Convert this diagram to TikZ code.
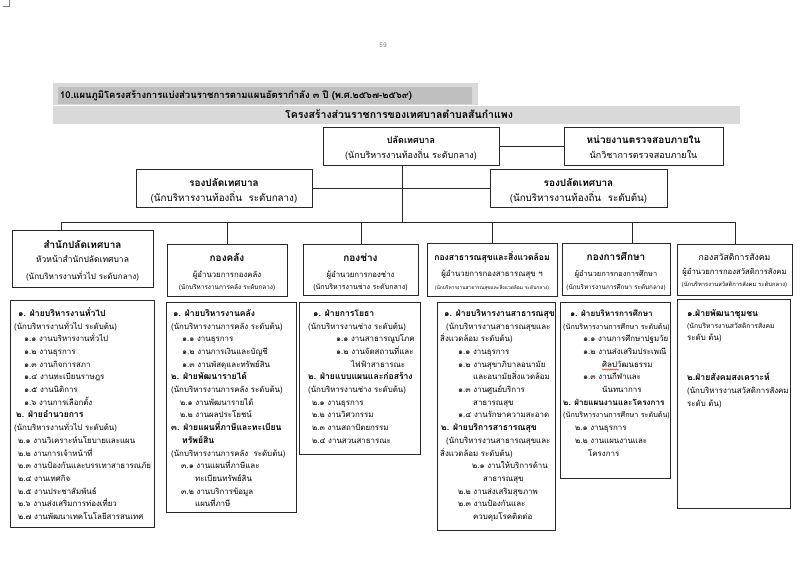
\documentclass[tikz,border=0pt]{standalone}
\usepackage{fontspec}
\setmainfont[Script=Thai]{Loma}
\newfontfamily\thai[Script=Thai]{Loma}
\usetikzlibrary{decorations.pathmorphing}
\newcommand\myind[1]{\hspace*{#1pt}}
\newcommand\fs[2]{\fontsize{#1}{#2}\selectfont}
\newcommand\bh[1]{{\bfseries\fs{8.6}{12.7}#1}}
\newcommand\bhs[1]{{\bfseries\fs{8.1}{12.7}#1}}
\definecolor{barDark}{RGB}{191,191,191}
\definecolor{barLight}{RGB}{217,217,217}
\definecolor{lineC}{RGB}{40,40,40}
\begin{document}
\begin{tikzpicture}[x=1pt,y=-1pt,
  box/.style={draw=lineC, line width=0.6pt, inner sep=0pt, anchor=north west},
  conn/.style={draw=lineC, line width=0.6pt},
  body/.style={inner sep=0pt, align=left, anchor=north west, font=\thai\fs{7.9}{12.7}},
  tb/.style={inner sep=0pt, anchor=base, font=\thai\bfseries\fs{9}{10}},
  tn/.style={inner sep=0pt, anchor=base, font=\thai\fs{9}{10}},
  hb/.style={inner sep=0pt, anchor=base, font=\thai\bfseries\fs{10}{11}},
  hn/.style={inner sep=0pt, anchor=base, font=\thai\fs{7.8}{10}},
  hs/.style={inner sep=0pt, anchor=base, font=\thai\fs{6.4}{8}}
]
\useasboundingbox (0,0) rectangle (800,567);
\fill[white] (0,0) rectangle (800,567);
% small corner mark
\draw[gray, line width=0.4pt] (3,6) -- (9,6) -- (9,0);
% page number
\node[inner sep=0pt, text=gray, font=\fs{6.5}{7}] (pg) at (383,45) {59};
% title bars
\fill[barLight] (53,83) rectangle (478,105);
\fill[barDark] (58,87) rectangle (472,104);
\fill[barLight] (53,106) rectangle (740,124);
\node[inner sep=0pt, anchor=base west, font=\thai\bfseries\fs{9.5}{10}] (title1) at (60,98.8)
  {10.แผนภูมิโครงสร้างการแบ่งส่วนราชการตามแผนอัตรากำลัง ๓ ปี (พ.ศ.๒๕๖๗-๒๕๖๙)};
\node[tb, font=\thai\bfseries\fs{10.5}{11}] (title2) at (399,118.8) {โครงสร้างส่วนราชการของเทศบาลตำบลสันกำแพง};

% top level
\node[box, minimum width=176, minimum height=38] (P) at (323,127) {};
\node[tb] (Pa) at (411,143) {ปลัดเทศบาล};
\node[tn] (Pb) at (411,158) {(นักบริหารงานท้องถิ่น ระดับกลาง)};
\node[box, minimum width=159, minimum height=38] (A) at (564,127) {};
\node[tb, font=\thai\bfseries\fs{10}{11}] (Aa) at (643.5,143) {หน่วยงานตรวจสอบภายใน};
\node[tn] (Ab) at (643.5,158) {นักวิชาการตรวจสอบภายใน};
\draw[conn] (P.east) -- (A.west);

% deputies
\node[box, minimum width=176, minimum height=38] (D1) at (136,169) {};
\node[tb, font=\thai\bfseries\fs{10}{11}] (D1a) at (224,186) {รองปลัดเทศบาล};
\node[tn, font=\thai\fs{9.8}{11}] (D1b) at (224,201.5) {(นักบริหารงานท้องถิ่น~~ระดับกลาง)};
\node[box, minimum width=177, minimum height=38] (D2) at (490,169) {};
\node[tb, font=\thai\bfseries\fs{10}{11}] (D2a) at (578.5,186) {รองปลัดเทศบาล};
\node[tn, font=\thai\fs{9.8}{11}] (D2b) at (578.5,201.5) {(นักบริหารงานท้องถิ่น~~ระดับต้น)};
\draw[conn] (D1.east) -- (D2.west);

% bus
\coordinate (bustop) at (402,222);
\coordinate (busL) at (61,222);
\coordinate (busR) at (735,222);
\coordinate (bus5) at (632,222);
\draw[conn] (P.south -| bustop) -- (bustop);
\draw[conn] (busL) -- (busR);

% column headers
\node[box, minimum width=141, minimum height=57] (H1) at (12,230) {};
\node[hb] (H1a) at (82.5,248.5) {สำนักปลัดเทศบาล};
\node[hn, font=\thai\fs{8.5}{10}] (H1b) at (82.5,262.5) {หัวหน้าสำนักปลัดเทศบาล};
\node[hn, font=\thai\fs{8.1}{10}] (H1c) at (82.5,279.5) {(นักบริหารงานทั่วไป ระดับกลาง)};

\node[box, minimum width=120, minimum height=52] (H2) at (167,244) {};
\node[hb] (H2a) at (227,261.5) {กองคลัง};
\node[hn] (H2b) at (227,277.5) {ผู้อำนวยการกองคลัง};
\node[hs] (H2c) at (227,289.5) {(นักบริหารงานการคลัง ระดับกลาง)};

\node[box, minimum width=115, minimum height=51] (H3) at (303,244) {};
\node[hb] (H3a) at (360.5,261.5) {กองช่าง};
\node[hn] (H3b) at (360.5,277.5) {ผู้อำนวยการกองช่าง};
\node[hs, font=\thai\fs{7.1}{8}] (H3c) at (360.5,289.5) {(นักบริหารงานช่าง ระดับกลาง)};

\node[box, minimum width=130, minimum height=53] (H4) at (427,243) {};
\node[hb, font=\thai\bfseries\fs{8.6}{10}] (H4a) at (492,260.5) {กองสาธารณสุขและสิ่งแวดล้อม};
\node[hn] (H4b) at (492,276.5) {ผู้อำนวยการกองสาธารณสุข ฯ};
\node[hs, font=\thai\fs{4.9}{6}] (H4c) at (492,289) {(นักบริหารงานสาธารณสุขและสิ่งแวดล้อม ระดับกลาง)};

\node[box, minimum width=108, minimum height=52] (H5) at (562,243) {};
\node[hb] (H5a) at (616,260.5) {กองการศึกษา};
\node[hn, font=\thai\fs{7.4}{8}] (H5b) at (616,276.5) {ผู้อำนวยการกองการศึกษา};
\node[hs, font=\thai\fs{6.3}{7}] (H5c) at (616,289) {(นักบริหารงานการศึกษา ระดับกลาง)};

\node[box, minimum width=115, minimum height=51] (H6) at (677,244) {};
\node[hb, font=\thai\fs{8.7}{10}] (H6a) at (734.5,260.5) {กองสวัสดิการสังคม};
\node[hn, font=\thai\fs{7.7}{8}] (H6b) at (734.5,274) {ผู้อำนวยการกองสวัสดิการสังคม};
\node[hs, font=\thai\fs{5.8}{7}] (H6c) at (734.5,286.5) {(นักบริหารงานสวัสดิการสังคม ระดับกลาง)};

% drops
\draw[conn] (busL) -- (busL |- H1.north);
\draw[conn] (H2.north |- busL) -- (H2.north);
\draw[conn] (H3.north |- busL) -- (H3.north);
\draw[conn] (H4.north |- busL) -- (H4.north);
\draw[conn] (bus5) -- (bus5 |- H5.north);
\draw[conn] (busR) -- (busR |- H6.north);

% body boxes
\node[box, minimum width=144, minimum height=227] (B1) at (10,300) {};
\node[box, minimum width=130, minimum height=210] (B2) at (166,302) {};
\node[box, minimum width=121, minimum height=152] (B3) at (299,302) {};
\node[box, minimum width=118, minimum height=228] (B4) at (437,302) {};
\node[box, minimum width=110, minimum height=176] (B5) at (560,302) {};
\node[box, minimum width=113, minimum height=209] (B6) at (677,299) {};

\node[body] (T1) at (14,307.3) {\strut\myind{4}\bh{๑. ฝ่ายบริหารงานทั่วไป}\\
(นักบริหารงานทั่วไป ระดับต้น)\\
\myind{10}๑.๑ งานบริหารงานทั่วไป\\
\myind{10}๑.๒ งานธุรการ\\
\myind{10}๑.๓ งานกิจการสภา\\
\myind{10}๑.๔ งานทะเบียนราษฎร\\
\myind{10}๑.๕ งานนิติการ\\
\myind{10}๑.๖ งานการเลือกตั้ง\\
\myind{2}\bh{๒. ฝ่ายอำนวยการ}\\
(นักบริหารงานทั่วไป ระดับต้น)\\
\myind{4}๒.๑ งานวิเคราะห์นโยบายและแผน\\
\myind{4}๒.๒ งานการเจ้าหน้าที่\\
\myind{4}๒.๓ งานป้องกันและบรรเทาสาธารณภัย\\
\myind{4}๒.๔ งานเทศกิจ\\
\myind{4}๒.๕ งานประชาสัมพันธ์\\
\myind{4}๒.๖ งานส่งเสริมการท่องเที่ยว\\
\myind{4}๒.๗ งานพัฒนาเทคโนโลยีสารสนเทศ};

\node[body] (T2) at (171,307.3) {\strut\myind{2}\bh{๑. ฝ่ายบริหารงานคลัง}\\
(นักบริหารงานการคลัง ระดับต้น)\\
\myind{11}๑.๑ งานธุรการ\\
\myind{11}๑.๒ งานการเงินและบัญชี\\
\myind{11}๑.๓ งานพัสดุและทรัพย์สิน\\
\bh{๒. ฝ่ายพัฒนารายได้}\\
(นักบริหารงานการคลัง ระดับต้น)\\
\myind{9}๒.๑ งานพัฒนารายได้\\
\myind{9}๒.๒ งานผลประโยชน์\\
\bh{๓. ฝ่ายแผนที่ภาษีและทะเบียน}\\
\myind{11}\bh{ทรัพย์สิน}\\
(นักบริหารงานการคลัง~~ระดับต้น)\\
\myind{10}๓.๑ งานแผนที่ภาษีและ\\
\myind{24}ทะเบียนทรัพย์สิน\\
\myind{10}๓.๒ งานบริการข้อมูล\\
\myind{24}แผนที่ภาษี};

\node[body] (T3) at (308,307.3) {\strut\myind{5}\bh{๑. ฝ่ายการโยธา}\\
(นักบริหารงานช่าง ระดับต้น)\\
\myind{28}๑.๑ งานสาธารณูปโภค\\
\myind{28}๑.๒ งานจัดสถานที่และ\\
\myind{43}ไฟฟ้าสาธารณะ\\
\bh{๒. ฝ่ายแบบแผนและก่อสร้าง}\\
(นักบริหารงานช่าง ระดับต้น)\\
\myind{4}๒.๑ งานธุรการ\\
\myind{4}๒.๒ งานวิศวกรรม\\
\myind{4}๒.๓ งานสถาปัตยกรรม\\
\myind{4}๒.๔ งานสวนสาธารณะ};

\node[body] (T4) at (440,307.3) {\strut\myind{4}\bh{๑. ฝ่ายบริหารงานสาธารณสุข}\\
\myind{6}(นักบริหารงานสาธารณสุขและ\\
สิ่งแวดล้อม ระดับต้น)\\
\myind{18}๑.๑ งานธุรการ\\
\myind{18}๑.๒ งานสุขาภิบาลอนามัย\\
\myind{33}และอนามัยสิ่งแวดล้อม\\
\myind{18}๑.๓ งานศูนย์บริการ\\
\myind{33}สาธารณสุข\\
\myind{18}๑.๔ งานรักษาความสะอาด\\
\myind{1}\bh{๒. ฝ่ายบริการสาธารณสุข}\\
\myind{6}(นักบริหารงานสาธารณสุขและ\\
สิ่งแวดล้อม ระดับต้น)\\
\myind{32}๒.๑ งานให้บริการด้าน\\
\myind{43}สาธารณสุข\\
\myind{18}๒.๒ งานส่งเสริมสุขภาพ\\
\myind{18}๒.๓ งานป้องกันและ\\
\myind{33}ควบคุมโรคติดต่อ};

\node[body] (T5) at (563,307.3) {\strut\myind{7}\bhs{๑. ฝ่ายบริหารการศึกษา}\\
{\fs{7.2}{12.7}(นักบริหารงานการศึกษา ระดับต้น)}\\
\myind{20}๑.๑ งานการศึกษาปฐมวัย\\
\myind{20}๑.๒ งานส่งเสริมประเพณี\\
\myind{39}ศิลปวัฒนธรรม\\
\myind{20}๑.๓ งานกีฬาและ\\
\myind{39}นันทนาการ\\
\bhs{๒. ฝ่ายแผนงานและโครงการ}\\
{\fs{7.2}{12.7}(นักบริหารงานการศึกษา ระดับต้น)}\\
\myind{12}๒.๑ งานธุรการ\\
\myind{12}๒.๒ งานแผนงานและ\\
\myind{25}โครงการ};
\draw[red, line width=0.4pt, decorate, decoration={snake, amplitude=0.6pt, segment length=2pt}] (602,369.5) -- (619,369.5);

\node[body, font=\thai\fs{7.9}{12}] (T6a) at (687,307.6) {\strut{\bfseries\fs{8.7}{12}๑.ฝ่ายพัฒนาชุมชน}\\
{\fs{6.8}{12}(นักบริหารงานสวัสดิการสังคม}\\
ระดับ ต้น)};
\node[body, font=\thai\fs{7.9}{13}] (T6b) at (687,371.3) {\strut{\bfseries\fs{8.7}{13}๒.ฝ่ายสังคมสงเคราะห์}\\
(นักบริหารงานสวัสดิการสังคม\\
ระดับ ต้น)};
\end{tikzpicture}
\end{document}
